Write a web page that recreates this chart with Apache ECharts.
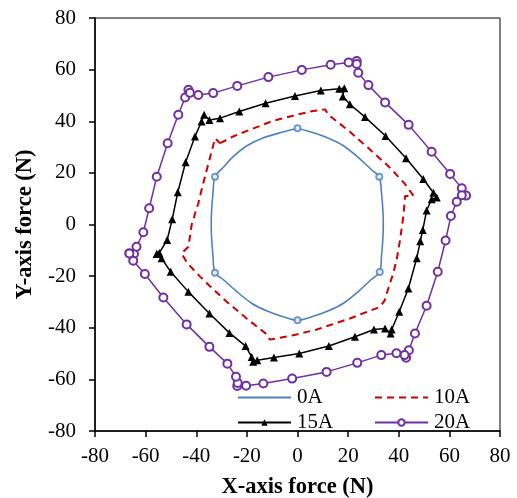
<!DOCTYPE html>
<html>
<head>
<meta charset="utf-8">
<script src="https://cdn.jsdelivr.net/npm/echarts@6/dist/echarts.min.js"></script>
<style>html,body{margin:0;padding:0;background:#fff}#c{width:517px;height:498px}</style>
</head>
<body>
<div id="c"></div>
<script>
// ---- Data (X force, Y force in N) ----
const seriesNames = ['0A', '10A', '15A', '20A'];
const xTicks = [-80, -60, -40, -20, 0, 20, 40, 60, 80];
const yTicks = [-80, -60, -40, -20, 0, 20, 40, 60, 80];

const curve0A = [
  [0,37.3],[6,35.6],[12,33.5],[18,30.6],[24,26],[29,21.4],[32.3,18.5],
  [33.2,12],[33.7,6],[33.9,0],[33.7,-6],[33.2,-12],[32.5,-18.4],
  [29,-21.4],[24,-26],[18,-30.6],[12,-33.5],[6,-35.6],[0,-37.1],
  [-6,-35.6],[-12,-33.5],[-18,-30.6],[-24,-26],[-29,-21.6],[-32.6,-18.7],
  [-33.4,-12],[-33.9,-6],[-34.1,0],[-33.9,6],[-33.4,12],[-32.6,18.5],
  [-29,22.5],[-25.4,26.3],[-20,30.5],[-13.5,33.6],[-6,35.8],[0,37.3]
];
const loops0A = [[0,37.3],[32.3,18.5],[32.5,-18.4],[0,-37.1],[-32.6,-18.7],[-32.6,18.5]];

const curve10A = [
  [-30.6,31.5],[-25,34.3],[-18.8,36.7],[-9.6,40.2],[0,42.6],[6.2,44],[10.9,44.6],[12.2,42.5],
  [20,36.5],[28,29.6],[36,22.5],[42,16.2],[45.8,11.2],[42.5,11],
  [41.8,3],[40.5,-6],[39.3,-13],[37.8,-19],[35.8,-25],[34.4,-29.5],[32.6,-31.9],
  [26,-34.4],[20.7,-36.4],[7.6,-40.7],[-1.7,-42.9],[-10.9,-44.6],[-12.2,-42.5],
  [-20.1,-36.4],[-28,-29.9],[-35,-23.5],[-38.5,-20.2],[-43.5,-15],[-45.8,-11.2],[-43.1,-8.6],
  [-41.8,0],[-39.2,8.2],[-37.5,15],[-35.9,21],[-34,28],[-32.6,33.4],[-30.6,31.5]
];

const curve15A = [
  [-55.6,-11.4],[-54.6,-11],[-51.5,-6],[-49.5,2],[-47.3,12.5],[-44.2,24.1],[-40.5,34.1],
  [-37.9,39.9],[-36.9,42.5],[-34.8,40.5],[-30.6,41.2],[-23,43.8],[-12.6,47],[-1,49.8],
  [9.2,51.9],[16.5,52.6],[18.5,52.8],[17.9,49.6],[20.7,46.6],[26.7,41.6],[34.8,34.3],
  [42.9,25.7],[49.7,17.6],[53.7,12.3],[55,10.5],[53,9.8],[51,5.4],[49.5,-2.1],[48.5,-6.5],
  [47.1,-13.1],[43.8,-24.8],[40.2,-33.8],[37.2,-40.7],[36.8,-42.2],[34.6,-40.3],[30.2,-40.7],
  [22.7,-43.5],[12.4,-47.1],[0.7,-50],[-9.3,-51.5],[-15.9,-52.6],[-17.5,-53.2],[-18.1,-51.3],
  [-20.5,-47.1],[-26.9,-42],[-34.8,-34.5],[-43.1,-26.1],[-50.1,-18.3],[-53.7,-13.1],[-55.6,-11.4]
];

const curve20A = [
  [-66.4,-11.2],[-64.6,-11.4],[-63.6,-8.6],[-60.9,-3],[-58.6,6.3],[-55.6,18.5],[-51.3,31.5],
  [-47.1,42.5],[-44.4,49.2],[-43.1,52.2],[-42.5,51],[-39.2,50.2],[-33.3,50.9],[-23.8,53.7],
  [-11.5,57.1],[1.7,59.9],[13.1,61.9],[20.2,62.8],[23.4,63.3],[23.4,62.2],[24,58.8],[28,54],
  [34.6,47.3],[43.9,38.6],[53,28.2],[60.3,19.6],[64.9,14],[66.6,11.2],[64.9,11.3],[62.9,8.8],
  [60.6,3.3],[58.5,-6.2],[55.4,-18.3],[51,-31.5],[46.4,-42.2],[44,-48.7],[42.9,-51.6],
  [42.3,-50.6],[39.1,-49.9],[33.1,-50.6],[23.6,-53.6],[11.5,-57.1],[-2.1,-59.7],[-13.5,-61.6],
  [-20.3,-62.5],[-23.8,-62.6],[-23.6,-61.4],[-24.3,-59],[-27.7,-53.9],[-34.8,-47.4],[-43.8,-38.7],
  [-53,-28.3],[-60.3,-19.2],[-64.9,-14],[-66.4,-11.2]
];

const FONT = 'Liberation Serif';
const chart = echarts.init(document.getElementById('c'), null, {renderer: 'canvas'});

function legendAt(name, left, top, hideSymbol) {
  const item = {name: name};
  if (hideSymbol) item.itemStyle = {color: 'rgba(0,0,0,0)', borderColor: 'rgba(0,0,0,0)', borderWidth: 0};
  return {
    data: [item], left: left, top: top, padding: 0, itemWidth: 53, itemHeight: 8, itemGap: 0,
    textStyle: {fontFamily: FONT, fontSize: 21, color: '#000', padding: [0, 0, 0, 1]},
    selectedMode: false
  };
}

const axisCommon = {
  type: 'value', min: -80, max: 80, interval: 20,
  axisLine: {show: true, onZero: false, lineStyle: {color: '#000', width: 1.5}},
  axisTick: {show: true, inside: false, length: 6, lineStyle: {color: '#000', width: 1.5}},
  splitLine: {show: false},
  nameLocation: 'middle',
  nameTextStyle: {fontFamily: FONT, fontSize: 22.5, fontWeight: 'bold', color: '#000'}
};

chart.setOption({
  animation: false,
  backgroundColor: '#fff',
  grid: {left: 95, right: 17, top: 18, bottom: 67, show: true, borderColor: '#000', borderWidth: 1,
    containLabel: false, outerBoundsMode: 'none'},
  xAxis: Object.assign({}, axisCommon, {
    name: 'X-axis force (N)', nameGap: 45,
    axisLabel: {fontFamily: FONT, fontSize: 21, color: '#000', margin: 15,
      formatter: v => xTicks.includes(v) ? String(v) : ''}
  }),
  yAxis: Object.assign({}, axisCommon, {
    name: 'Y-axis force (N)', nameGap: 57,
    axisLabel: {fontFamily: FONT, fontSize: 21, color: '#000', margin: 19,
      formatter: v => yTicks.includes(v) ? String(v) : ''}
  }),
  legend: [
    legendAt(seriesNames[0], 237, 387, true),
    legendAt(seriesNames[1], 374, 387, true),
    legendAt(seriesNames[2], 237, 412, false),
    legendAt(seriesNames[3], 374, 412, false)
  ],
  series: [
    {name: seriesNames[0], type: 'line', data: curve0A, symbol: 'none', smooth: 0.3,
      lineStyle: {color: '#4F81BD', width: 1.6}, itemStyle: {color: '#4F81BD'}, z: 2},
    {name: '0A-loops', type: 'scatter', data: loops0A, symbol: 'emptyCircle', symbolSize: 6,
      itemStyle: {color: '#4F81BD', borderColor: '#4F81BD', borderWidth: 1.5}, z: 3},
    {name: seriesNames[1], type: 'line', data: curve10A, symbol: 'none',
      lineStyle: {color: '#CC0000', width: 2, type: [7, 5]}, itemStyle: {color: '#CC0000'}, z: 2},
    {name: seriesNames[2], type: 'line', data: curve15A, symbol: 'triangle', symbolSize: 8,
      lineStyle: {color: '#000', width: 1.5}, itemStyle: {color: '#000'}, z: 4},
    {name: seriesNames[3], type: 'line', data: curve20A, symbol: 'emptyCircle', symbolSize: 8,
      lineStyle: {color: '#7030A0', width: 1.5},
      itemStyle: {color: '#7030A0', borderColor: '#7030A0', borderWidth: 1}, z: 4}
  ]
});
</script>
</body>
</html>
